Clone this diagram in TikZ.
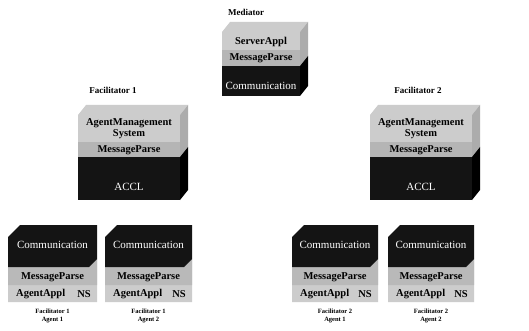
\documentclass[tikz,border=0pt]{standalone}
\usepackage{fontspec}
\setmainfont{Liberation Serif}
\begin{document}
\begin{tikzpicture}[x=1pt,y=-1pt,
  lbl/.style={font=\bfseries\fontsize{9}{10}\selectfont, inner sep=0pt},
  sublbl/.style={font=\bfseries\fontsize{6.5}{7.5}\selectfont, inner sep=0pt, align=center},
  graytxt/.style={font=\bfseries\fontsize{10.5}{11}\selectfont, inner sep=0pt, text=black},
  whitetxt/.style={font=\fontsize{11}{12}\selectfont, inner sep=0pt, text=white},
  topface/.style={fill=gray!40},
  lightband/.style={fill=gray!40},
  darkband/.style={fill=gray!58},
  blackband/.style={fill=black!92},
  sideface/.style={fill=gray!65}]
\useasboundingbox (0,0) rectangle (529,331);
\fill[white] (0,0) rectangle (529,331);

% ---------- Mediator ----------
\node[lbl] (medl) at (246,12) {Mediator};
\fill[topface] (222,32) -- (230,22) -- (308,22) -- (300,32) -- cycle;
\fill[lightband] (222,32) rectangle (300,50);
\fill[darkband] (222,50) rectangle (300,66);
\fill[sideface] (300,32) -- (308,22) -- (308,56) -- (300,66) -- cycle;
\fill[blackband] (222,66) rectangle (300,96);
\fill[black] (300,66) -- (308,56) -- (308,86) -- (300,96) -- cycle;
\node[graytxt] (medsa) at (261,42) {ServerAppl};
\node[graytxt] (medmp) at (261,58) {MessageParse};
\node[whitetxt] (medco) at (261,86) {Communication};

% ---------- Facilitator 1 ----------
\node[lbl] (f1l) at (113,90) {Facilitator 1};
\fill[topface] (78,115) -- (86,105) -- (188,105) -- (180,115) -- cycle;
\fill[lightband] (78,115) rectangle (180,142);
\fill[darkband] (78,142) rectangle (180,157);
\fill[sideface] (180,115) -- (188,105) -- (188,147) -- (180,157) -- cycle;
\fill[blackband] (78,157) rectangle (180,200);
\fill[black] (180,157) -- (188,147) -- (188,190) -- (180,200) -- cycle;
\node[graytxt] (f1am) at (129,123) {AgentManagement};
\node[graytxt] (f1sy) at (129,134) {System};
\node[graytxt] (f1mp) at (129,150) {MessageParse};
\node[whitetxt] (f1ac) at (129,187) {ACCL};

% ---------- Facilitator 2 ----------
\node[lbl] (f2l) at (418,90) {Facilitator 2};
\fill[topface] (370,115) -- (378,105) -- (480,105) -- (472,115) -- cycle;
\fill[lightband] (370,115) rectangle (472,142);
\fill[darkband] (370,142) rectangle (472,157);
\fill[sideface] (472,115) -- (480,105) -- (480,147) -- (472,157) -- cycle;
\fill[blackband] (370,157) rectangle (472,200);
\fill[black] (472,157) -- (480,147) -- (480,190) -- (472,200) -- cycle;
\node[graytxt] (f2am) at (421,123) {AgentManagement};
\node[graytxt] (f2sy) at (421,134) {System};
\node[graytxt] (f2mp) at (421,150) {MessageParse};
\node[whitetxt] (f2ac) at (421,187) {ACCL};

% ---------- Agents ----------
\foreach \n/\xa/\xb/\fa/\ag in {a/8/97/1/1, b/105/192/1/2, c/292/378/2/1, d/388/474/2/2}{
  \fill[gray!40] (\xa,267) -- (\xb-8,267) -- (\xb,259) -- (\xb,302) -- (\xa,302) -- cycle;
  \fill[gray!55] (\xa,267) -- (\xb-8,267) -- (\xb,259) -- (\xb,285) -- (\xa,285) -- cycle;
  \fill[blackband] (\xa,237) -- (\xa+12,225) -- (\xb,225) -- (\xb,259) -- (\xb-8,267) -- (\xa,267) -- cycle;
  \node[whitetxt] (co\n) at ({(\xa+\xb)/2},245) {Communication};
  \node[graytxt] (mp\n) at ({(\xa+\xb)/2},277) {MessageParse};
  \node[graytxt, anchor=west] (aa\n) at (\xa+8,294) {AgentAppl};
  \node[graytxt, anchor=east] (ns\n) at (\xb-6,294) {NS};
  \node[sublbl] (lb\n) at ({(\xa+\xb)/2},316) {Facilitator \fa\\Agent \ag};
}
\end{tikzpicture}
\end{document}
